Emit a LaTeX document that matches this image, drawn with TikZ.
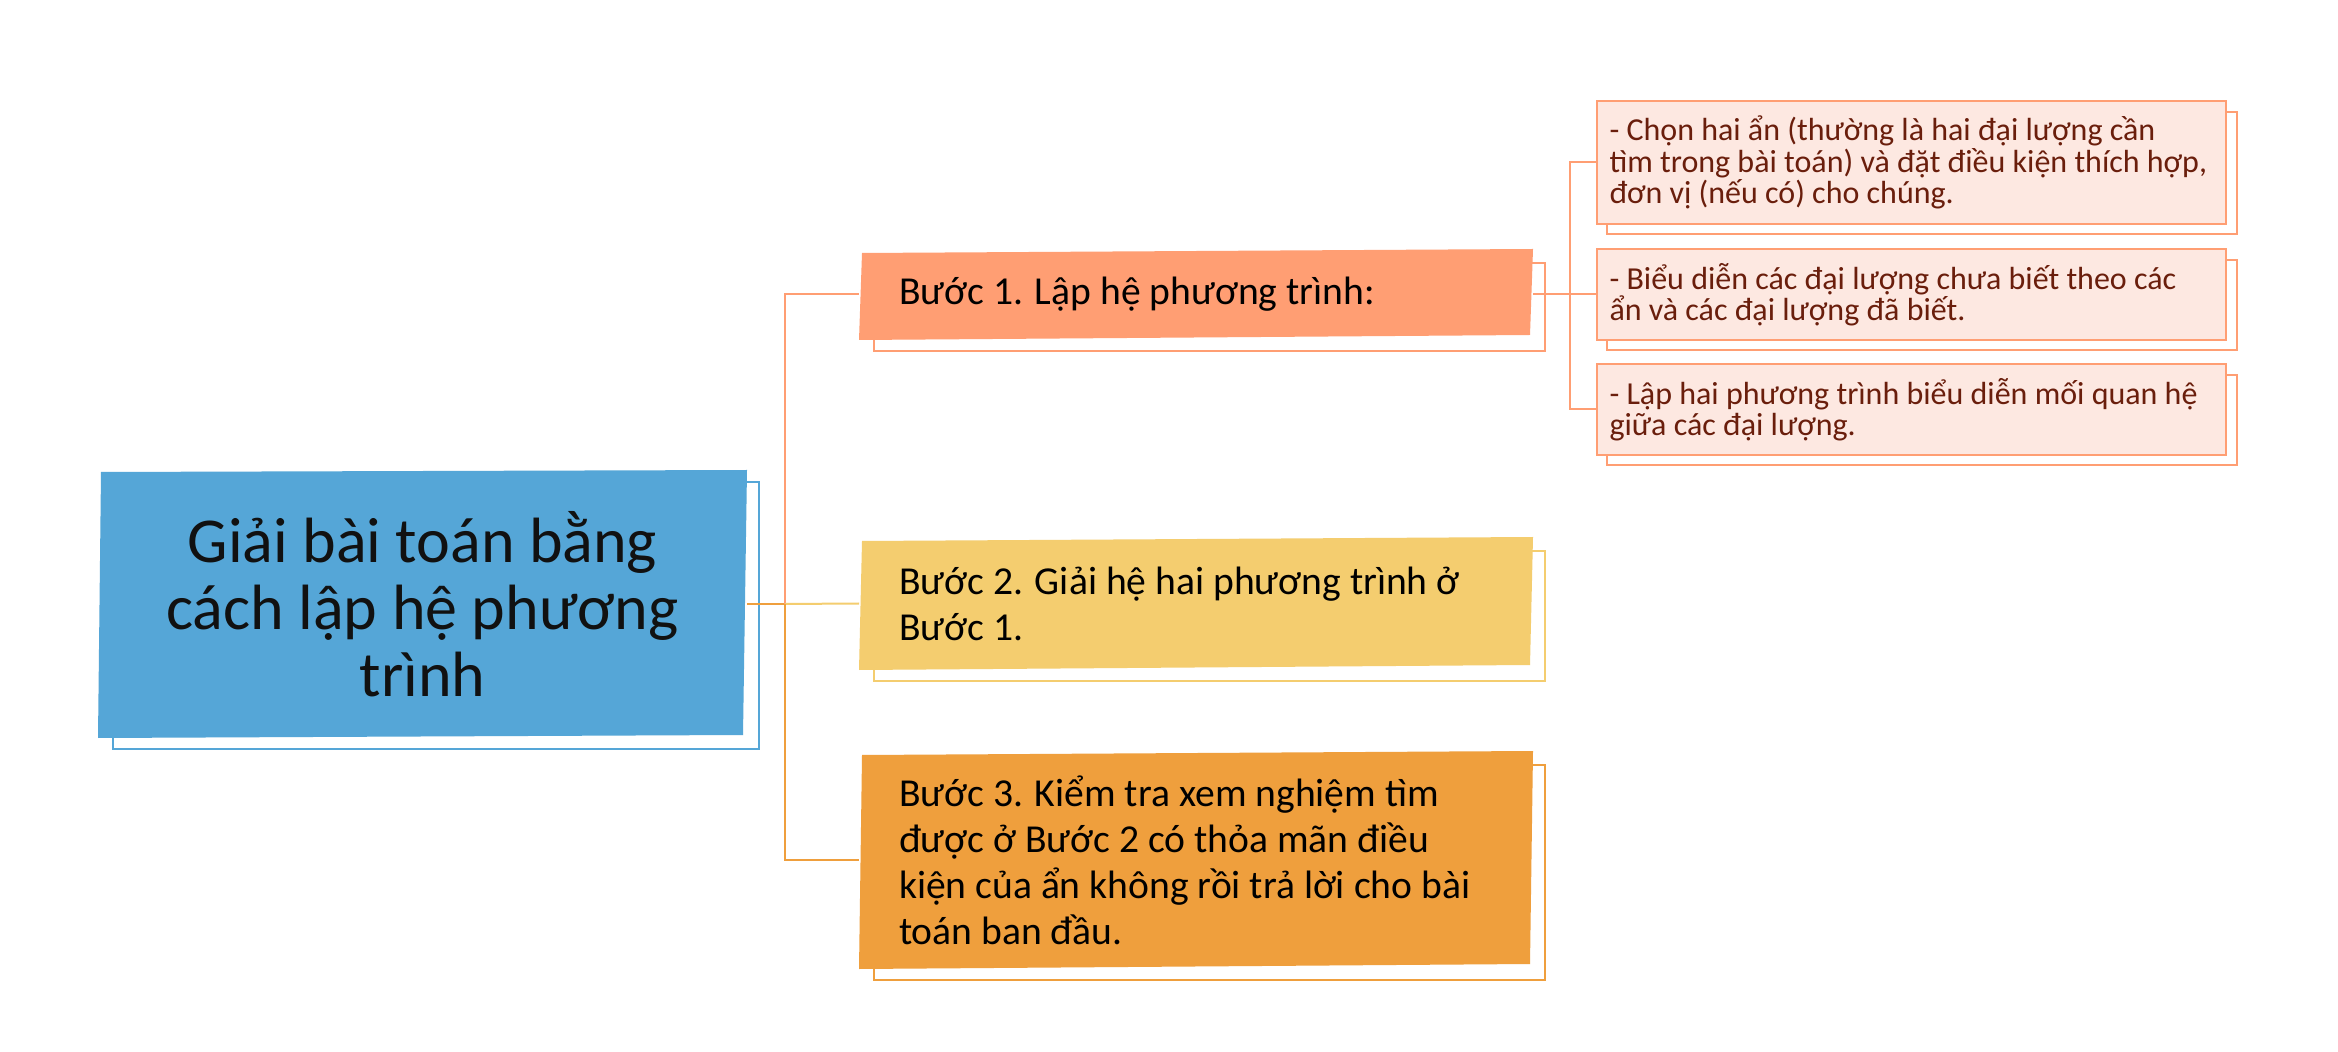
\documentclass[tikz,border=0pt]{standalone}
\usepackage{fontspec}
\setmainfont{Carlito}
\usetikzlibrary{backgrounds,calc}
\definecolor{rootblue}{HTML}{55A6D7}
\definecolor{salmon}{HTML}{FF9E73}
\definecolor{yellowc}{HTML}{F4CD6F}
\definecolor{orangec}{HTML}{EF9F3D}
\definecolor{detfill}{HTML}{FDE8E1}
\definecolor{dettext}{HTML}{6A1E0C}
\definecolor{roottext}{HTML}{111111}
\begin{document}
\begin{tikzpicture}[x=0.5pt,y=-0.5pt,
  basebox/.style={rectangle, inner sep=0pt, outer sep=0pt, anchor=center},
  rootbox/.style={basebox, minimum width=324.5pt, minimum height=134pt,
    align=center, text=roottext, font=\fontsize{32}{33.5}\selectfont},
  stepbox/.style={basebox, minimum width=337pt, text width=297pt, inner xsep=20pt,
    align=flush left, text=black, font=\fontsize{19.8}{23}\selectfont},
  detbox/.style={basebox, fill=detfill, draw=salmon, line width=1.3pt,
    minimum width=314.5pt, text width=302pt, inner xsep=6.25pt,
    align=flush left, text=dettext, font=\fontsize{16}{15.6}\selectfont},
  conn/.style={line width=1pt},
  shadowline/.style={line width=1.4pt}]
\useasboundingbox (0,0) rectangle (2338,1052);

% root and steps
\node[rootbox] (root) at (422.5,604) {Giải bài toán bằng\\cách lập hệ phương\\trình};
\node[stepbox, minimum height=45.5pt] (s1) at (1196,294.5) {Bước 1. Lập hệ phương trình:};
\node[stepbox, minimum height=66.5pt] (s2) at (1196,603.5) {Bước 2. Giải hệ hai phương trình ở\\Bước 1.};
\node[stepbox, minimum height=109pt] (s3) at (1196,860) {Bước 3. Kiểm tra xem nghiệm tìm\\được ở Bước 2 có thỏa mãn điều\\kiện của ẩn không rồi trả lời cho bài\\toán ban đầu.};

% details
\node[detbox, minimum height=61.5pt] (d1) at (1911.5,162.5) {- Chọn hai ẩn (thường là hai đại lượng cần\\tìm trong bài toán) và đặt điều kiện thích hợp,\\đơn vị (nếu có) cho chúng.};
\node[detbox, minimum height=45.5pt] (d2) at (1911.5,294.5) {- Biểu diễn các đại lượng chưa biết theo các\\ẩn và các đại lượng đã biết.};
\node[detbox, minimum height=45.5pt] (d3) at (1911.5,409.5) {- Lập hai phương trình biểu diễn mối quan hệ\\giữa các đại lượng.};

\begin{scope}[on background layer]
  \fill[white] (0,0) rectangle (2338,1052);
  % offset outlines
  \draw[rootblue, shadowline] ($(root.north west)+(15,12)$) rectangle ($(root.south east)+(12,11)$);
  \draw[salmon, shadowline] ($(s1.north west)+(15,14)$) rectangle ($(s1.south east)+(12,11)$);
  \draw[yellowc, shadowline] ($(s2.north west)+(15,14)$) rectangle ($(s2.south east)+(12,11)$);
  \draw[orangec, shadowline] ($(s3.north west)+(15,14)$) rectangle ($(s3.south east)+(12,11)$);
  \draw[salmon, shadowline] ($(d1.north west)+(10,11)$) rectangle ($(d1.south east)+(11,10)$);
  \draw[salmon, shadowline] ($(d2.north west)+(10,11)$) rectangle ($(d2.south east)+(11,10)$);
  \draw[salmon, shadowline] ($(d3.north west)+(10,11)$) rectangle ($(d3.south east)+(11,10)$);
  % slightly skewed fills
  \fill[rootblue] ($(root.north west)+(3,2)$) -- (root.north east) -- ($(root.south east)+(-4,-3)$) -- (root.south west) -- cycle;
  \fill[salmon] ($(s1.north west)+(3,4)$) -- (s1.north east) -- ($(s1.south east)+(-3,-5)$) -- (s1.south west) -- cycle;
  \fill[yellowc] ($(s2.north west)+(3,4)$) -- (s2.north east) -- ($(s2.south east)+(-3,-5)$) -- (s2.south west) -- cycle;
  \fill[orangec] ($(s3.north west)+(3,4)$) -- (s3.north east) -- ($(s3.south east)+(-3,-5)$) -- (s3.south west) -- cycle;

  \coordinate (j1) at (785,604);
  \coordinate (j2) at (1570,294.5);
  \draw[conn, orangec] (root.east) -- (j1);
  \draw[conn, salmon] (j1) |- (s1.west);
  \draw[conn, yellowc] (j1) -- (s2.west);
  \draw[conn, orangec] (j1) |- (s3.west);
  \draw[conn, salmon] (s1.east) -- (j2);
  \draw[conn, salmon] (j2) |- (d1.west);
  \draw[conn, salmon] (j2) -- (d2.west);
  \draw[conn, salmon] (j2) |- (d3.west);
\end{scope}
\end{tikzpicture}
\end{document}
